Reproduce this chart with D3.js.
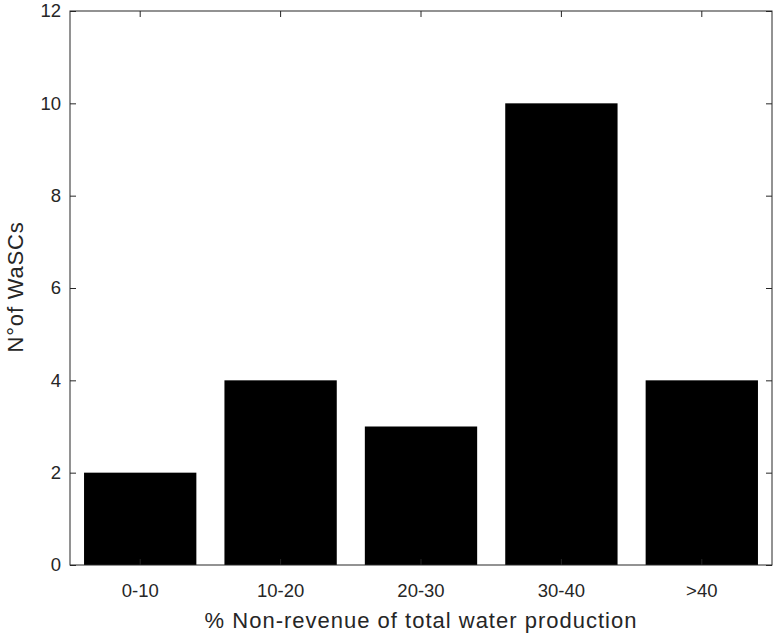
<!DOCTYPE html>
<html>
<head>
<meta charset="utf-8">
<script src="https://cdn.jsdelivr.net/npm/d3@7"></script>
<style>
	body { margin: 0; background: #fff; }
	text { font-family: 'Liberation Sans', Arial, sans-serif; }
</style>
</head>
<body>
<div id="chart"></div>
<script>
const categories = ['0-10', '10-20', '20-30', '30-40', '>40']
const counts = [2, 4, 3, 10, 4]
const yTicks = [0, 2, 4, 6, 8, 10, 12]

var width = 774
var height = 637
var margin = {top: 11, right: 2, bottom: 72, left: 70}
var innerW = width - margin.left - margin.right
var innerH = height - margin.top - margin.bottom
var axisColor = '#262626'
var tickLen = 6

var svg = d3.select('#chart')
	.append('svg')
	.attr('width', width)
	.attr('height', height)

var g = svg.append('g')
	.attr('transform', 'translate(' + margin.left + ',' + margin.top + ')')

// x scale like matlab: 0.5 .. n+0.5, bar width 0.8
var x = d3.scaleBand()
	.domain(categories)
	.range([0, innerW])
	.paddingInner(0.2)
	.paddingOuter(0.1)

var y = d3.scaleLinear()
	.domain([0, 12])
	.range([innerH, 0])

// bars
g.selectAll('rect.bar')
	.data(counts)
	.enter()
	.append('rect')
	.attr('class', 'bar')
	.attr('x', (d, i) => x(categories[i]))
	.attr('y', d => y(d))
	.attr('width', x.bandwidth())
	.attr('height', d => innerH - y(d))
	.attr('fill', '#000')

// box
g.append('rect')
	.attr('x', 0)
	.attr('y', 0)
	.attr('width', innerW)
	.attr('height', innerH)
	.attr('fill', 'none')
	.attr('stroke', axisColor)
	.attr('stroke-width', 1)

// left axis
var yAxis = d3.axisLeft(y)
	.tickValues(yTicks)
	.tickSize(-tickLen)
	.tickPadding(9)
g.append('g')
	.call(yAxis)
	.call(a => a.select('.domain').remove())

// right ticks
g.append('g')
	.attr('transform', 'translate(' + innerW + ',0)')
	.call(d3.axisRight(y).tickValues(yTicks).tickSize(-tickLen).tickFormat(''))
	.call(a => a.select('.domain').remove())

// bottom axis
g.append('g')
	.attr('transform', 'translate(0,' + innerH + ')')
	.call(d3.axisBottom(x).tickSize(-tickLen).tickPadding(19))
	.call(a => a.select('.domain').remove())

// top ticks
g.append('g')
	.call(d3.axisTop(x).tickSize(-tickLen).tickFormat(''))
	.call(a => a.select('.domain').remove())

g.selectAll('.tick line').attr('stroke', axisColor)
g.selectAll('.tick text')
	.attr('fill', axisColor)
	.style('font-size', '18.5px')

// axis labels
svg.append('text')
	.attr('x', margin.left + innerW / 2)
	.attr('y', 628)
	.attr('text-anchor', 'middle')
	.attr('fill', axisColor)
	.style('font-size', '22px')
	.style('letter-spacing', '1px')
	.text('% Non-revenue of total water production')

svg.append('text')
	.attr('transform', 'translate(23,' + 287 + ') rotate(-90)')
	.attr('text-anchor', 'middle')
	.attr('fill', axisColor)
	.style('font-size', '22px')
	.style('letter-spacing', '0.8px')
	.text('N°of WaSCs')
</script>
</body>
</html>
